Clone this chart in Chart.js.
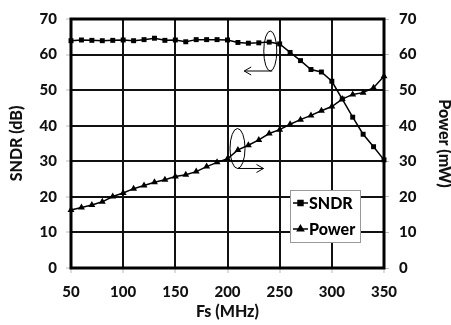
<!DOCTYPE html>
<html>
<head>
<meta charset="utf-8">
<script src="https://cdn.jsdelivr.net/npm/chart.js@4.4.1/dist/chart.umd.min.js"></script>
<style>
  html, body { margin: 0; padding: 0; background: #fff; }
  #wrap { width: 451px; height: 325px; position: relative; }
</style>
</head>
<body>
<div id="wrap"><canvas id="myChart"></canvas></div>
<script>
// Frecuencia de muestreo (MHz)
const fs = [50, 60, 70, 80, 90, 100, 110, 120, 130, 140, 150, 160, 170, 180, 190, 200,
            210, 220, 230, 240, 250, 260, 270, 280, 290, 300, 310, 320, 330, 340, 350];

// SNDR (dB)
const sndr = [63.9, 64.1, 64.0, 63.9, 64.0, 64.1, 63.9, 64.2, 64.6, 64.0, 64.1, 63.6, 64.2, 64.2, 64.2, 64.1,
              63.4, 63.2, 63.3, 63.5, 63.0, 60.6, 58.3, 55.8, 55.1, 52.5, 47.5, 42.4, 37.6, 34.1, 30.4];

// Power (mW)
const power = [16.3, 17.0, 17.7, 18.6, 20.1, 21.1, 22.3, 23.2, 24.1, 24.8, 25.7, 26.2, 27.1, 28.5, 29.7, 30.7,
               33.2, 34.5, 36.0, 37.8, 38.9, 40.4, 41.7, 42.9, 44.2, 45.4, 47.5, 48.8, 49.3, 50.7, 53.9];

const xTicks = [50, 100, 150, 200, 250, 300, 350];
const yTicks = [0, 10, 20, 30, 40, 50, 60, 70];

const FONT = 'Lato, "DejaVu Sans", sans-serif';

// marco negro alrededor del area del grafico
const framePlugin = {
    id: 'frame',
    beforeDatasetsDraw(chart) {
        const { ctx, chartArea: a } = chart;
        ctx.save();
        ctx.strokeStyle = '#000';
        ctx.lineWidth = 3;
        ctx.strokeRect(a.left, a.top, a.right - a.left, a.bottom - a.top);
        ctx.restore();
    }
};

function arrow(ctx, x1, y1, x2, y2) {
    ctx.beginPath();
    ctx.moveTo(x1, y1);
    ctx.lineTo(x2, y2);
    const dir = x2 > x1 ? -1 : 1;
    ctx.moveTo(x2 + dir * 7, y2 - 4);
    ctx.lineTo(x2, y2);
    ctx.lineTo(x2 + dir * 7, y2 + 4);
    ctx.stroke();
}

// elipses y flechas que indican el eje de cada serie
const notesPlugin = {
    id: 'notes',
    afterDatasetsDraw(chart) {
        const { ctx } = chart;
        const x = chart.scales.x, yl = chart.scales.y, yr = chart.scales.y1;
        ctx.save();
        ctx.strokeStyle = '#000';
        ctx.lineWidth = 1;

        // SNDR -> eje izquierdo
        let cx = x.getPixelForValue(241), cy = yl.getPixelForValue(61);
        ctx.beginPath();
        ctx.ellipse(cx, cy, 6.5, 20, 0, 0, Math.PI * 2);
        ctx.stroke();
        arrow(ctx, cx + 2, cy + 20, x.getPixelForValue(216), cy + 20);

        // Power -> eje derecho
        cx = x.getPixelForValue(209.6); cy = yr.getPixelForValue(33.6);
        ctx.beginPath();
        ctx.ellipse(cx, cy, 7.5, 20, 0, 0, Math.PI * 2);
        ctx.stroke();
        arrow(ctx, cx, cy + 20, x.getPixelForValue(234.5), cy + 20);
        ctx.restore();
    }
};

// leyenda dentro del area
const legendPlugin = {
    id: 'boxLegend',
    afterDraw(chart) {
        const { ctx } = chart;
        const bx = 290, by = 190, bw = 70, bh = 52;
        ctx.save();
        ctx.fillStyle = '#fff';
        ctx.fillRect(bx, by, bw, bh);
        ctx.strokeStyle = '#999';
        ctx.lineWidth = 1;
        ctx.strokeRect(bx + 0.5, by + 0.5, bw, bh);

        const rows = [
            { label: 'SNDR', style: 'rect', y: by + 13 },
            { label: 'Power', style: 'triangle', y: by + 39 }
        ];
        rows.forEach(r => {
            ctx.strokeStyle = '#000';
            ctx.lineWidth = 1.5;
            ctx.beginPath();
            ctx.moveTo(bx + 3, r.y);
            ctx.lineTo(bx + 18, r.y);
            ctx.stroke();
            Chart.helpers.drawPoint(ctx, { pointStyle: r.style, radius: 3.5, rotation: 0, borderWidth: 1 }, bx + 10.5, r.y);
            ctx.fillStyle = '#000';
            ctx.fill();
            ctx.font = '900 16px ' + FONT;
            ctx.textBaseline = 'middle';
            ctx.textAlign = 'left';
            ctx.fillText(r.label, bx + 19, r.y + 1);
        });
        ctx.restore();
    }
};

const tickFont = { family: FONT, size: 15, weight: '900' };
const titleFont = { family: FONT, size: 16, weight: '900' };

const ctx = document.getElementById('myChart');
new Chart(ctx, {
    type: 'line',
    data: {
        datasets: [{
            label: 'SNDR',
            data: fs.map((f, i) => ({ x: f, y: sndr[i] })),
            yAxisID: 'y',
            borderColor: '#000',
            backgroundColor: '#000',
            borderWidth: 1.5,
            pointStyle: 'rect',
            pointRadius: 3.5,
            pointBorderWidth: 0,
            clip: false,
            tension: 0
        }, {
            label: 'Power',
            data: fs.map((f, i) => ({ x: f, y: power[i] })),
            yAxisID: 'y1',
            borderColor: '#000',
            backgroundColor: '#000',
            borderWidth: 1.5,
            pointStyle: 'triangle',
            pointRadius: 4,
            pointBorderWidth: 0,
            clip: false,
            tension: 0
        }]
    },
    options: {
        responsive: true,
        maintainAspectRatio: false,
        animation: false,
        layout: { padding: { top: 15, left: 0, right: 0, bottom: 0 } },
        plugins: {
            legend: { display: false },
            tooltip: { enabled: false }
        },
        scales: {
            x: {
                type: 'linear',
                min: 50,
                max: 350,
                afterBuildTicks: s => { s.ticks = xTicks.map(v => ({ value: v })); },
                afterFit: s => { s.height = 57; },
                grid: { color: '#111', lineWidth: 2, tickLength: 5, tickColor: '#bbb', tickWidth: 1 },
                border: { display: false },
                ticks: { color: '#111', padding: 10, maxRotation: 0, font: tickFont },
                title: { display: true, text: 'Fs (MHz)', color: '#111', padding: { top: 0, bottom: 4 },
                         font: titleFont }
            },
            y: {
                position: 'left',
                min: 0,
                max: 70,
                afterBuildTicks: s => { s.ticks = yTicks.map(v => ({ value: v })); },
                afterFit: s => { s.width = 71; },
                grid: { color: '#111', lineWidth: 2, tickLength: 5, tickColor: '#bbb', tickWidth: 1 },
                border: { display: false },
                ticks: { color: '#111', padding: 9, font: tickFont },
                title: { display: true, text: 'SNDR (dB)', color: '#111', padding: { top: 7, bottom: 0 },
                         font: titleFont }
            },
            y1: {
                position: 'right',
                min: 0,
                max: 70,
                afterBuildTicks: s => { s.ticks = yTicks.map(v => ({ value: v })); },
                afterFit: s => { s.width = 67; },
                grid: { drawOnChartArea: false, tickLength: 5, tickColor: '#bbb', tickWidth: 1 },
                border: { display: false },
                ticks: { color: '#111', padding: 10, font: tickFont },
                title: { display: true, text: 'Power (mW)', color: '#111', padding: { top: -3, bottom: 0 },
                         font: titleFont }
            }
        }
    },
    plugins: [framePlugin, notesPlugin, legendPlugin]
});
</script>
</body>
</html>
